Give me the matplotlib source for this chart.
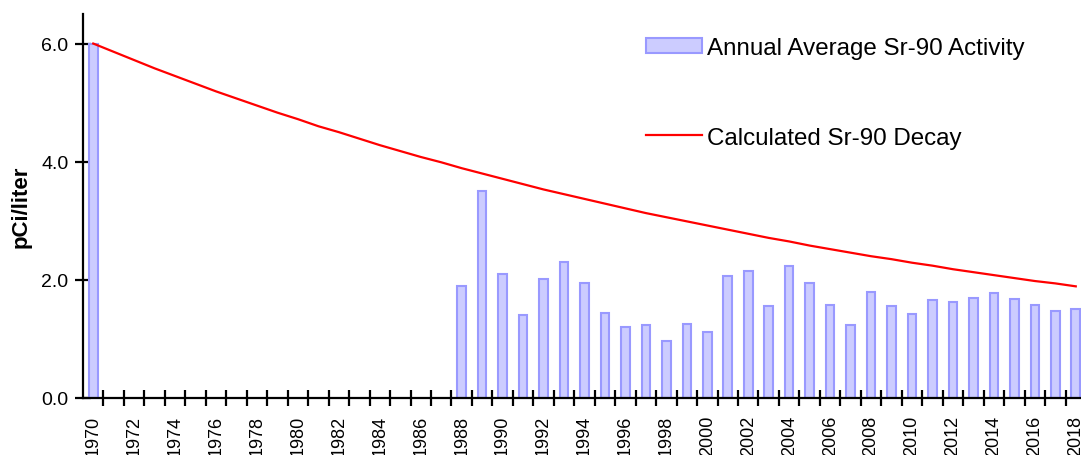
import matplotlib
matplotlib.use("Agg")
import matplotlib.pyplot as plt
import numpy as np

plt.rcParams['font.family'] = ['Liberation Sans', 'DejaVu Sans']

years = list(range(1970, 2019))
activity = {1970: 6.00,
            1988: 1.90, 1989: 3.50, 1990: 2.10, 1991: 1.41, 1992: 2.01, 1993: 2.30,
            1994: 1.94, 1995: 1.44, 1996: 1.21, 1997: 1.23, 1998: 0.97, 1999: 1.25,
            2000: 1.12, 2001: 2.07, 2002: 2.15, 2003: 1.56, 2004: 2.23, 2005: 1.95,
            2006: 1.58, 2007: 1.24, 2008: 1.80, 2009: 1.55, 2010: 1.42, 2011: 1.66,
            2012: 1.63, 2013: 1.70, 2014: 1.78, 2015: 1.67, 2016: 1.58, 2017: 1.47,
            2018: 1.50}
decay = [6.00, 5.86, 5.72, 5.58, 5.45, 5.32, 5.19, 5.07, 4.95, 4.83,
         4.72, 4.60, 4.50, 4.39, 4.28, 4.18, 4.08, 3.99, 3.89, 3.80,
         3.71, 3.62, 3.53, 3.45, 3.37, 3.29, 3.21, 3.13, 3.06, 2.99,
         2.92, 2.85, 2.78, 2.71, 2.65, 2.58, 2.52, 2.46, 2.40, 2.35,
         2.29, 2.24, 2.18, 2.13, 2.08, 2.03, 1.98, 1.94, 1.89]
tick_labels = [str(y) if y % 2 == 0 else "" for y in years]
y_ticks = [0.0, 2.0, 4.0, 6.0]

fig = plt.figure(figsize=(10.81, 4.56), dpi=100)
ax = fig.add_axes([83/1081, 1-399/456, (1086-83)/1081, (399-15)/456])

xpos = np.arange(len(years))
bar_years = sorted(activity)
bar_x = [years.index(y) for y in bar_years]
bar_v = [activity[y] for y in bar_years]
bars = ax.bar(bar_x, bar_v, width=0.42, color='#CCCCFF', edgecolor='#9999FF',
              linewidth=1.5, label='Annual Average Sr-90 Activity', zorder=2)
line, = ax.plot(xpos, decay, color='#FF0000', linewidth=1.6,
                label='Calculated Sr-90 Decay', zorder=3)

ax.set_xlim(-0.5, len(years) - 0.5)
ax.set_ylim(0, 6.5)

for s in ['top', 'right']:
    ax.spines[s].set_visible(False)
for s in ['left', 'bottom']:
    ax.spines[s].set_linewidth(1.6)
    ax.spines[s].set_color('black')

ax.set_yticks(y_ticks)
ax.set_yticklabels([f"{v:.1f}" for v in y_ticks], fontsize=14)
ax.tick_params(axis='y', direction='inout', length=11, width=1.6, pad=5)

ax.set_xticks(xpos)
ax.set_xticklabels(tick_labels, rotation=90, fontsize=13, va='top')
ax.tick_params(axis='x', which='major', length=0, pad=12)
ax.set_xticks(np.arange(len(years)) + 0.5, minor=True)
ax.tick_params(axis='x', which='minor', direction='inout', length=12, width=1.6)

fig.text(21/1081, 1-207/456, 'pCi/liter', rotation=90, fontsize=16,
         fontweight='bold', ha='center', va='center')

leg = fig.legend(handles=[bars, line], loc='upper left',
                 bbox_to_anchor=(646/1081, 1-38/456),
                 frameon=False, fontsize=17.4, borderpad=0, borderaxespad=0,
                 handlelength=2.3, handleheight=0.62, handletextpad=0.22,
                 labelspacing=2.8)

fig.savefig('out.png', dpi=100)
